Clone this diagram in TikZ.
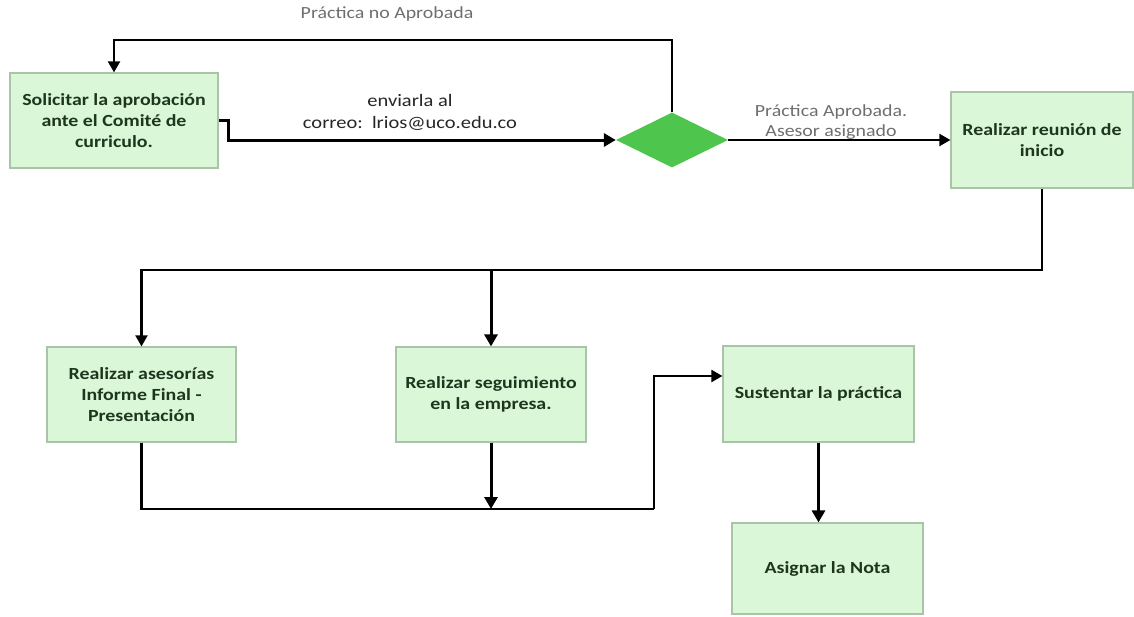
\documentclass[tikz,border=0pt]{standalone}
\usepackage{fontspec}
\setmainfont{Carlito}[FakeStretch=1.17]
\usetikzlibrary{shapes.geometric,arrows.meta}
\definecolor{boxfill}{HTML}{DAF7D8}
\definecolor{boxline}{HTML}{A9C4A9}
\definecolor{boxtext}{HTML}{1E361E}
\definecolor{dia}{HTML}{4EC64E}
\definecolor{lbl}{HTML}{6E6E6E}
\tikzset{
  stepbox/.style={draw=boxline, fill=boxfill, line width=1.2pt, inner sep=0pt,
    align=center, text=boxtext, font=\bfseries\fontsize{17}{21}\selectfont},
  decision/.style={diamond, fill=dia, draw=none, inner sep=0pt, minimum width=112pt, minimum height=55pt},
  conn/.style={line width=2.1pt, -{Triangle[length=11pt,width=12pt]}},
  connthick/.style={line width=3pt, -{Triangle[length=12pt,width=13pt]}},
  plain/.style={line width=2.1pt},
  glabel/.style={text=lbl, font=\fontsize{17}{19.5}\selectfont, align=center, inner sep=0pt},
  blabel/.style={text=black!85, font=\fontsize{17.5}{22}\selectfont, align=center, inner sep=0pt}
}
\begin{document}
\begin{tikzpicture}[x=1pt,y=-1pt]
\useasboundingbox (0,0) rectangle (1134,616);
\node[stepbox, minimum width=208pt, minimum height=95pt] (sol) at (114,120.5) {Solicitar la aprobación\\ante el Comité de\\curriculo.};
\node[decision] (dia) at (672,140) {};
\node[stepbox, minimum width=182pt, minimum height=96pt] (reu) at (1042,140) {Realizar reunión de\\inicio};
\node[stepbox, minimum width=189pt, minimum height=95pt] (ase) at (141.5,394.5) {Realizar asesorías\\Informe Final -\\Presentación};
\node[stepbox, minimum width=190pt, minimum height=95pt] (seg) at (491,394.5) {Realizar seguimiento\\en la empresa.};
\node[stepbox, minimum width=191pt, minimum height=96pt] (sus) at (818.5,394) {Sustentar la práctica};
\node[stepbox, minimum width=191pt, minimum height=91pt] (asi) at (827.5,568.5) {Asignar la Nota};

\node[glabel] (lno) at (387,14) {Práctica no Aprobada};
\node[glabel] (lsi) at (831,122) {Práctica Aprobada.\\Asesor asignado};
\node[blabel] (lmail) at (410,112) {enviarla al\\correo:\ \ lrios@uco.edu.co};

\coordinate (j1) at (491,270);
\coordinate (j2) at (491,509);
\coordinate (k) at (654,509);

\draw[connthick] (sol.east) -- ++(10,0) |- (dia.west);
\draw[conn] (dia.north) -- ++(0,-72) -| (sol.north);
\draw[conn] (dia.east) -- (reu.west);
\draw[conn] (reu.south) |- (j1) -| (ase.north);
\draw[connthick] (j1) -- (seg.north);
\draw[plain] (ase.south) |- (k);
\draw[conn] (k) |- (sus.west |- 0,376);
\draw[connthick] (seg.south) -- (j2);
\draw[connthick] (sus.south) -- (sus.south |- asi.north);
\end{tikzpicture}
\end{document}
